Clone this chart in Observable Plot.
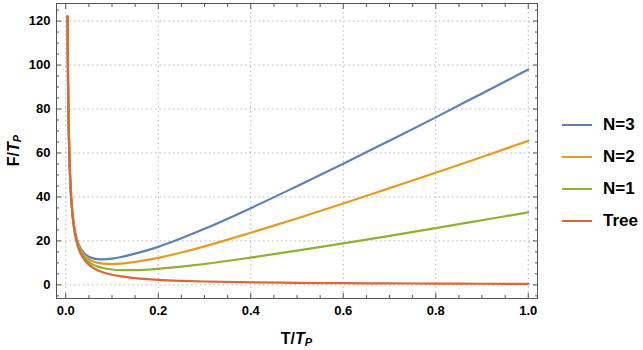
<!DOCTYPE html>
<html><head><meta charset="utf-8">
<script src="https://cdn.jsdelivr.net/npm/d3@7"></script>
<script src="https://cdn.jsdelivr.net/npm/@observablehq/plot@0.6"></script>
<style>
body{margin:0;background:#fff;}
#wrap{position:relative;width:643px;height:350px;}
#legend{position:absolute;left:562px;top:109px;font-family:"Liberation Sans",Arial,sans-serif;font-weight:bold;font-size:17px;color:#000;}
.item{display:flex;align-items:center;height:32px;}
.item svg{margin-right:11px;}
</style></head><body><div id="wrap"></div>
<script>
// T / T_P sample points
const T = [0.0038, 0.005, 0.0075, 0.01, 0.015, 0.02, 0.025, 0.03, 0.04, 0.05, 0.06, 0.07, 0.08, 0.1, 0.12, 0.15, 0.2, 0.25, 0.3, 0.4, 0.5, 0.6, 0.7, 0.8, 0.9, 1.0];
// F / T_P readings per series
const fN3  = [122.3, 92.4, 61.8, 46.7, 31.8, 24.5, 20.2, 17.5, 14.4, 12.8, 12.05, 11.7, 11.6, 11.95, 12.7, 14.2, 17.3, 21.2, 25.5, 34.9, 44.9, 55.1, 65.6, 76.2, 87.1, 98.0];
const fN2  = [122.2, 92.2, 61.7, 46.5, 31.4, 24.0, 19.6, 16.8, 13.4, 11.6, 10.6, 10.0, 9.65, 9.5, 9.7, 10.5, 12.3, 14.7, 17.5, 23.7, 30.2, 37.0, 44.0, 51.0, 58.2, 65.5];
const fN1  = [122.1, 92.1, 61.5, 46.2, 31.1, 23.5, 19.0, 16.0, 12.5, 10.4, 9.1, 8.3, 7.7, 7.0, 6.7, 6.7, 7.3, 8.3, 9.5, 12.4, 15.6, 18.9, 22.3, 25.8, 29.4, 33.0];
const fTree= [122.0, 92.0, 61.3, 46.0, 30.7, 23.0, 18.4, 15.3, 11.5, 9.2, 7.67, 6.57, 5.75, 4.6, 3.83, 3.07, 2.3, 1.84, 1.53, 1.15, 0.92, 0.77, 0.66, 0.58, 0.51, 0.46];

const seriesNames = ["N=3", "N=2", "N=1", "Tree"];
const seriesValues = [fN3, fN2, fN1, fTree];
const colors = ["#5E81B5", "#E19C24", "#8FB032", "#DC663A"];

const xTicks = [0, 0.2, 0.4, 0.6, 0.8, 1.0];
const yTicks = [0, 20, 40, 60, 80, 100, 120];
const xMinor = [0.05,0.1,0.15,0.25,0.3,0.35,0.45,0.5,0.55,0.65,0.7,0.75,0.85,0.9,0.95];
const yMinor = [-5,5,10,15,25,30,35,45,50,55,65,70,75,85,90,95,105,110,115,125];

const data = seriesNames.flatMap((s, i) => T.map((t, j) => ({T: t, F: seriesValues[i][j], series: s})));

const font = "Liberation Sans, Arial, sans-serif";
const frameColor = "#555";

const chart = Plot.plot({
  width: 643, height: 350,
  marginLeft: 56, marginRight: 106, marginTop: 3, marginBottom: 52,
  x: {domain: [-0.02, 1.02]},
  y: {domain: [-6.2, 128]},
  color: {domain: seriesNames, range: colors},
  style: {fontFamily: font, background: "white", color: "black"},
  marks: [
    Plot.gridX(xTicks, {stroke: "#b5b5b5", strokeOpacity: 1, strokeDasharray: "1.5,3"}),
    Plot.gridY(yTicks, {stroke: "#b5b5b5", strokeOpacity: 1, strokeDasharray: "1.5,3"}),
    Plot.line(data, {x: "T", y: "F", z: "series", stroke: "series", strokeWidth: 2.2, curve: "monotone-x"}),
    Plot.frame({stroke: frameColor}),
    // inward major ticks
    Plot.axisX(xTicks, {anchor: "bottom", tickSize: 5, dy: -5, fill: "none", stroke: frameColor, label: null}),
    Plot.axisX(xTicks, {anchor: "top", tickSize: 5, dy: 5, fill: "none", stroke: frameColor, label: null}),
    Plot.axisY(yTicks, {anchor: "left", tickSize: 5, dx: 5, fill: "none", stroke: frameColor, label: null}),
    Plot.axisY(yTicks, {anchor: "right", tickSize: 5, dx: -5, fill: "none", stroke: frameColor, label: null}),
    // inward minor ticks
    Plot.axisX(xMinor, {anchor: "bottom", tickSize: 3, dy: -3, fill: "none", stroke: frameColor, label: null}),
    Plot.axisX(xMinor, {anchor: "top", tickSize: 3, dy: 3, fill: "none", stroke: frameColor, label: null}),
    Plot.axisY(yMinor, {anchor: "left", tickSize: 3, dx: 3, fill: "none", stroke: frameColor, label: null}),
    Plot.axisY(yMinor, {anchor: "right", tickSize: 3, dx: -3, fill: "none", stroke: frameColor, label: null}),
    // tick labels
    Plot.axisX(xTicks, {anchor: "bottom", tickSize: 0, tickPadding: 7, tickFormat: d => d.toFixed(1), fontWeight: "bold", fontSize: 13, fill: "black", label: null}),
    Plot.axisY(yTicks, {anchor: "left", tickSize: 0, tickPadding: 6, tickFormat: d => String(d), fontWeight: "bold", fontSize: 13, fill: "black", label: null})
  ]
});

// axis titles with italic T and subscript P
const svg = d3.select(chart);
const xs = chart.scale("x"), ys = chart.scale("y");
const xl = svg.append("text")
  .attr("x", xs.apply(0.5)).attr("y", 338)
  .attr("text-anchor", "middle").attr("dominant-baseline", "central")
  .attr("font-family", font).attr("font-size", 16).attr("font-weight", "bold").attr("fill", "black");
xl.append("tspan").text("T/");
xl.append("tspan").attr("font-style", "italic").text("T");
xl.append("tspan").attr("font-style", "italic").attr("font-size", 11).attr("dy", "0.35em").text("P");

const yl = svg.append("text")
  .attr("transform", `translate(13,${(ys.apply(-6.2) + ys.apply(128)) / 2}) rotate(-90)`)
  .attr("text-anchor", "middle").attr("dominant-baseline", "central")
  .attr("font-family", font).attr("font-size", 16).attr("font-weight", "bold").attr("fill", "black");
yl.append("tspan").text("F/");
yl.append("tspan").attr("font-style", "italic").text("T");
yl.append("tspan").attr("font-style", "italic").attr("font-size", 11).attr("dy", "0.35em").text("P");

const wrap = document.getElementById("wrap");
wrap.appendChild(chart);

// legend
const legend = document.createElement("div");
legend.id = "legend";
seriesNames.forEach((s, i) => {
  const item = document.createElement("div");
  item.className = "item";
  item.innerHTML = `<svg width="30" height="4"><line x1="0" y1="2" x2="30" y2="2" stroke="${colors[i]}" stroke-width="2"/></svg><span>${s}</span>`;
  legend.appendChild(item);
});
wrap.appendChild(legend);
</script>
</body></html>
